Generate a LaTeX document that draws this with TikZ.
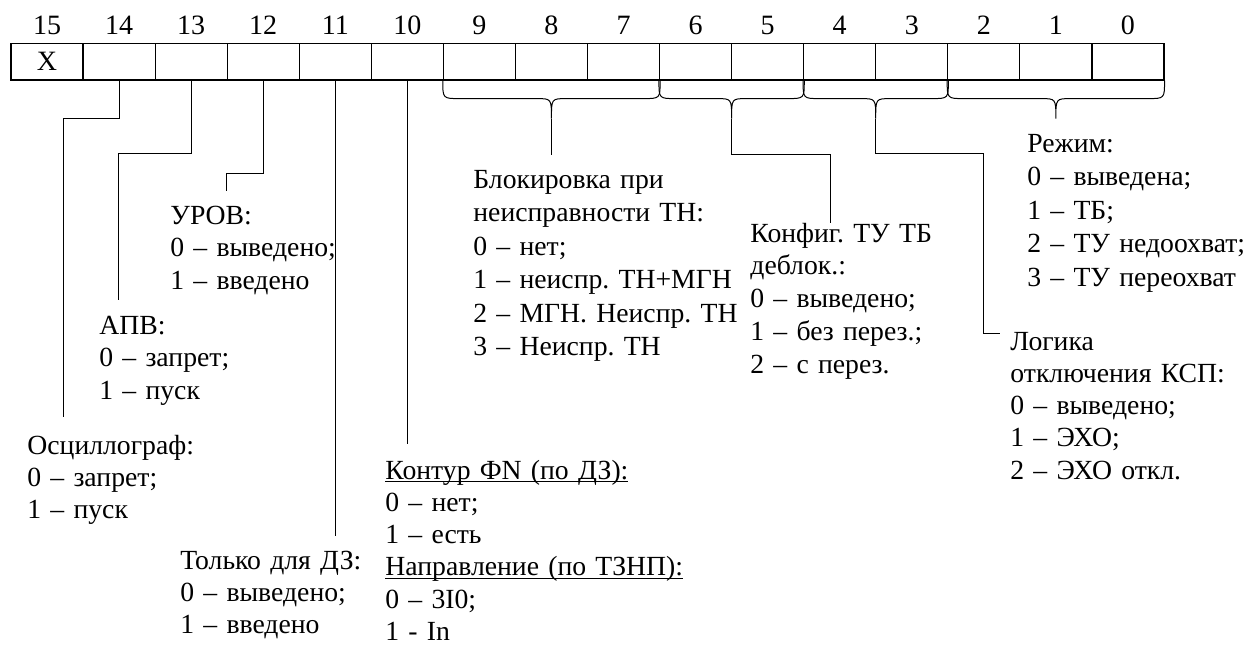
\documentclass[tikz,border=0pt]{standalone}
\usepackage{fontspec}
\setmainfont{Liberation Serif}
\usetikzlibrary{calc}
\frenchspacing
\newcommand\myul[1]{\leavevmode\setbox0\hbox{#1}\rlap{\rule[-1.6pt]{\wd0}{0.5pt}}\box0}
\tikzset{
  cell/.style={draw, line width=0.6pt, minimum width=36.03pt, minimum height=18.25pt, inner sep=0pt, font=\fontsize{14}{16.4}\selectfont},
  bitnum/.style={anchor=base, inner sep=0pt, font=\fontsize{14}{16.4}\selectfont},
  conn/.style={draw, line width=0.5pt},
  lbl/.style={anchor=base west, inner sep=0pt, text width=200pt, align=left, font=\fontsize{13.85}{16.4}\selectfont\frenchspacing},
  lblA/.style={lbl, font=\fontsize{13.85}{16.15}\selectfont\frenchspacing},
  lblB/.style={lbl, font=\fontsize{13.85}{16.75}\selectfont\frenchspacing}
}
\newcommand\bitbrace[3]{%
  \path ($(#1)!0.5!(#2)+(0,38)$) coordinate (#3);
  \draw[conn] (#1) .. controls ($(#1)+(0,18)$) .. ($(#1)+(17,18)$)
    -- ($(#3)+(-15,-20)$) .. controls ($(#3)+(0,-20)$) .. (#3)
    .. controls ($(#3)+(0,-20)$) .. ($(#3)+(15,-20)$)
    -- ($(#2)+(-17,18)$) .. controls ($(#2)+(0,18)$) .. (#2);
}
\begin{document}
\begin{tikzpicture}[x=0.5pt, y=-0.5pt]
\useasboundingbox (0,0) rectangle (1244,648);
% register cells and bit numbers
\foreach \i in {0,...,15}{
  \pgfmathsetmacro\cx{11+(15-\i)*72.06+36.03}
  \node[cell] (c\i) at (\cx,61.75) {\ifnum\i=15 X\fi};
  \node[bitnum] (n\i) at (\cx,34) {\i};
}
% braces
\bitbrace{c9.south west}{c7.south east}{t97}
\bitbrace{c6.south west}{c5.south east}{t65}
\bitbrace{c4.south west}{c3.south east}{t43}
\bitbrace{c2.south west}{c0.south east}{t20}
% labels
\node[lblA] (osc) at (27,454) {Осциллограф:\\0 – запрет;\\1 – пуск};
\node[lbl] (apv) at (99,334) {АПВ:\\0 – запрет;\\1 – пуск};
\node[lbl] (urov) at (170,224) {УРОВ:\\0 – выведено;\\1 – введено};
\node[lblA] (dz) at (180,569) {Только для ДЗ:\\0 – выведено;\\1 – введено};
\node[lblA] (kont) at (385,479) {\myul{Контур ФN (по ДЗ):}\\0 – нет;\\1 – есть\\\myul{Направление (по ТЗНП):}\\0 – 3I0;\\1 - In};
\node[lblB] (blk) at (473,188) {Блокировка при\\неисправности ТН:\\0 – нет;\\1 – неиспр. ТН+МГН\\2 – МГН. Неиспр. ТН\\3 – Неиспр. ТН};
\node[lbl] (conf) at (750,242) {Конфиг. ТУ ТБ\\деблок.:\\0 – выведено;\\1 – без перез.;\\2 – с перез.};
\node[lblB] (rez) at (1027,152) {Режим:\\0 – выведена;\\1 – ТБ;\\2 – ТУ недоохват;\\3 – ТУ переохват};
\node[lblA] (logk) at (1010,350) {Логика\\отключения КСП:\\0 – выведено;\\1 – ЭХО;\\2 – ЭХО откл.};
% connector end points
\coordinate (k14) at (63,118);  \coordinate (e14) at (63,417);
\coordinate (k13) at (118,153); \coordinate (e13) at (118,300);
\coordinate (k12) at (226,173); \coordinate (e12) at (226,191);
\coordinate (e11) at ($(c11.south)+(0,455)$);
\coordinate (e10) at ($(c10.south)+(0,363)$);
\coordinate (e97) at ($(t97)+(0,36)$);
\coordinate (k65) at (830,154); \coordinate (e65) at (830,223);
\coordinate (k43) at (983,153); \coordinate (m43) at (983,333); \coordinate (e43) at (1000,333);
% connectors
\draw[conn] (c14.south) |- (k14) -- (e14);
\draw[conn] (c13.south) |- (k13) -- (e13);
\draw[conn] (c12.south) |- (k12) -- (e12);
\draw[conn] (c11.south) -- (e11);
\draw[conn] (c10.south) -- (e10);
\draw[conn] (t97) -- (e97);
\draw[conn] (t65) |- (k65) -- (e65);
\draw[conn] (t43) |- (k43) -- (m43) -- (e43);
\end{tikzpicture}
\end{document}
